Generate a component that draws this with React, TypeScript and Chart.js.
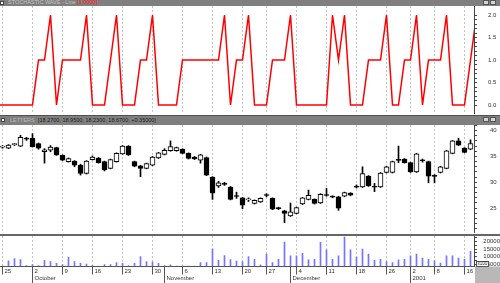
import React, { useEffect, useRef } from 'react';
import { Chart, registerables } from 'chart.js';
Chart.register(...registerables);

const FONT = '"Liberation Sans", Arial, Helvetica, sans-serif';

// ---- x axis (trading-day index) ----
const dayTickIdx = [0, 5, 10, 15, 20, 25, 30, 35, 40, 44, 49, 54, 59, 64, 68, 72, 77];
const dayTickLabels = ['25', '2', '9', '16', '23', '30', '6', '13', '20', '27', '4', '11', '18', '26', '2', '8', '16'];
const monthIdx = [5, 27, 48, 68];
const monthLabels = ['October', 'November', 'December', '2001'];

// ---- stochastic wave (first value is the day before the first candle) ----
const WAVE_START = -1;
const waveValues = [
  0, 0, 0, 0, 0, 0, 0, 1, 1, 2, 0, 1, 1, 1, 1, 2, 0, 0, 0, 1,
  2, 0, 0, 0, 1, 1, 2, 0, 0, 0, 0, 1, 1, 1, 1, 1, 1, 1, 2, 0,
  1, 1, 2, 0, 0, 0, 1, 1, 1, 2, 0, 0, 0, 0, 0, 0, 2, 1, 2, 0,
  0, 0, 1, 1, 1, 2, 0, 0, 1, 1, 2, 0, 1, 1, 1, 2, 0, 0, 0, 1, 2,
];
const waveTickLabels = [0, 0.5, 1, 1.5, 2];

// ---- price candles ----
const opens = [
  36.8, 36.6, 37.3, 37.0, 38.4, 38.5, 37.5, 35.9, 36.2, 36.7,
  35.2, 34.0, 34.1, 33.3, 31.7, 34.4, 34.7, 34.0, 32.7, 34.0,
  35.5, 37.0, 34.0, 33.2, 32.7, 33.3, 34.7, 35.4, 36.1, 36.1,
  36.4, 35.6, 34.9, 34.3, 34.8, 31.0, 29.3, 29.65, 29.1, 27.3,
  27.0, 26.6, 25.9, 26.2, 27.5, 26.9, 24.95, 24.5, 23.5, 24.0,
  25.8, 26.7, 26.7, 26.0, 27.5, 27.2, 27.2, 27.3, 27.9, 29.1,
  29.1, 31.2, 29.1, 29.1, 31.9, 31.9, 34.3, 34.5, 33.8, 32.0,
  34.2, 34.0, 31.2, 31.9, 32.7, 35.6, 38.0, 36.6, 36.4,
];
const highs = [
  37.1, 37.3, 37.5, 39.1, 38.7, 39.4, 37.6, 36.5, 37.1, 36.8,
  35.3, 34.7, 34.2, 33.5, 34.2, 35.1, 34.8, 34.1, 34.5, 35.7,
  37.1, 37.1, 34.1, 33.3, 33.7, 35.0, 35.8, 36.5, 38.0, 36.8,
  36.5, 35.7, 35.0, 35.4, 34.9, 31.1, 30.2, 30.0, 29.2, 28.1,
  27.1, 27.0, 26.6, 27.0, 27.8, 27.0, 25.2, 24.6, 26.0, 25.2,
  27.1, 28.5, 26.8, 27.8, 28.8, 27.4, 27.3, 28.1, 28.0, 29.5,
  33.0, 31.3, 29.8, 31.9, 33.1, 34.1, 37.0, 34.6, 33.9, 35.6,
  34.5, 34.1, 31.5, 33.1, 36.2, 38.1, 38.5, 36.7, 38.2,
];
const lows = [
  36.6, 36.5, 37.1, 36.9, 38.1, 36.8, 36.4, 33.7, 35.9, 35.2,
  34.2, 33.9, 33.0, 31.4, 31.6, 34.3, 33.7, 32.2, 32.6, 33.9,
  35.4, 35.2, 33.0, 31.1, 32.6, 33.2, 34.6, 35.3, 36.0, 36.0,
  35.5, 34.5, 34.4, 33.7, 31.3, 26.7, 29.0, 29.4, 26.6, 26.9,
  24.9, 26.3, 25.8, 26.1, 27.2, 24.7, 24.7, 22.2, 23.4, 23.9,
  25.7, 26.6, 25.8, 25.9, 27.3, 27.0, 24.6, 27.2, 27.4, 28.9,
  29.0, 29.2, 28.2, 29.0, 31.8, 31.8, 33.8, 33.7, 31.9, 31.9,
  33.9, 29.9, 29.9, 31.8, 32.6, 35.5, 37.1, 35.7, 36.3,
];
const closes = [
  36.9, 37.2, 37.35, 38.7, 38.35, 36.9, 36.6, 36.3, 36.8, 35.3,
  34.3, 34.6, 33.3, 31.7, 34.1, 34.9, 33.8, 32.4, 34.4, 35.6,
  37.0, 35.3, 33.1, 32.7, 33.6, 34.9, 35.7, 36.2, 36.9, 36.7,
  35.6, 34.6, 34.5, 35.3, 31.4, 27.9, 29.9, 29.6, 26.7, 27.25,
  25.6, 26.7, 26.5, 26.9, 27.45, 24.8, 24.9, 24.0, 24.3, 25.1,
  27.0, 27.5, 25.9, 27.7, 27.45, 27.15, 25.0, 28.0, 27.5, 29.05,
  31.7, 29.3, 29.05, 31.8, 33.0, 34.0, 34.25, 33.8, 32.0, 35.5,
  34.15, 31.2, 31.15, 33.0, 36.1, 38.0, 37.2, 35.8, 37.5,
];
const priceTickLabels = [25, 30, 35, 40];

// ---- volume ----
const volumes = [
  3800, 7300, 8800, 8100, 4100, 4800, 4100, 7500, 6800, 5500,
  4800, 9500, 6800, 5500, 5100, 4100, 3800, 4800, 4800, 6100,
  5500, 4100, 5500, 10100, 6800, 6500, 5500, 4100, 4500, 3800,
  3800, 3800, 3800, 6100, 6100, 15100, 7500, 10800, 8100, 7100,
  6800, 10100, 8300, 4600, 11700, 6100, 8300, 19700, 10600, 10600,
  12300, 7900, 8300, 19500, 14600, 8300, 10600, 23000, 14600, 9700,
  15000, 11700, 7500, 8300, 6800, 6100, 7900, 8300, 10600, 11700,
  9000, 8300, 7300, 5700, 10600, 10600, 9000, 8300, 13500,
];
const volTickLabels = [5000, 10000, 15000, 20000];

// ---- scale ranges ----
const X_MIN = -2.5 / 6;
const X_MAX = X_MIN + 79;
const AXIS_W = 26;

const xScale = (h: number) => ({
  type: 'linear' as const,
  min: X_MIN,
  max: X_MAX,
  offset: false,
  afterBuildTicks: (s: any) => {
    s.ticks = dayTickIdx.map((v) => ({ value: v }));
  },
  afterFit: (s: any) => {
    s.height = h;
    s.paddingLeft = 0;
    s.paddingRight = 0;
  },
  ticks: { display: false, autoSkip: false },
  grid: { color: '#c4c4c4', lineWidth: 1, drawTicks: false, offset: false },
  border: { display: false, dash: [2, 2] },
});

const yScale = (
  min: number,
  max: number,
  minorTicks: number[],
  labelled: number[],
  fmt: (v: number) => string,
  padding: number,
  crossAlign: 'near' | 'far'
) => ({
  type: 'linear' as const,
  position: 'right' as const,
  min,
  max,
  afterBuildTicks: (s: any) => {
    s.ticks = minorTicks.map((v) => ({ value: v }));
  },
  afterFit: (s: any) => {
    s.width = AXIS_W;
    s.paddingTop = 0;
    s.paddingBottom = 0;
  },
  ticks: {
    autoSkip: false,
    padding,
    crossAlign,
    color: '#333',
    font: { family: FONT, size: 6 },
    callback: (v: any) => (labelled.includes(Number(v)) ? fmt(Number(v)) : ''),
  },
  grid: { drawOnChartArea: false, drawTicks: true, tickLength: 3, color: '#444', tickColor: '#444' },
  border: { display: true, color: '#444', width: 1 },
});

const xLabelsPlugin = {
  id: 'xLabels',
  afterDraw(chart: any) {
    const { ctx, chartArea, scales } = chart;
    const xs = scales.x;
    const b = chartArea.bottom;
    const H = chart.height;
    const W = chart.width;
    ctx.save();
    ctx.fillStyle = '#b8b8b8';
    ctx.fillRect(chartArea.right + 1, b, W - chartArea.right, H - b);
    ctx.strokeStyle = '#555';
    ctx.lineWidth = 1;
    const by = Math.floor(b) + 0.5;
    ctx.beginPath();
    ctx.moveTo(0, by);
    ctx.lineTo(chartArea.right, by);
    ctx.stroke();
    ctx.font = `6px ${FONT}`;
    ctx.fillStyle = '#333';
    ctx.textBaseline = 'middle';
    ctx.textAlign = 'left';
    dayTickIdx.forEach((v, k) => {
      const x = Math.round(xs.getPixelForValue(v) - 0.5) + 0.5;
      ctx.beginPath();
      ctx.moveTo(x, by);
      ctx.lineTo(x, by + 8);
      ctx.stroke();
      ctx.fillText(dayTickLabels[k], x + 2, b + 4.5);
    });
    monthIdx.forEach((v, k) => {
      const x = Math.round(xs.getPixelForValue(v) - 0.5) + 0.5;
      ctx.beginPath();
      ctx.moveTo(x, by);
      ctx.lineTo(x, H);
      ctx.stroke();
      ctx.fillText(monthLabels[k], x + 2, b + 12);
    });
    ctx.restore();
  },
};

const baseOptions = {
  animation: false as const,
  responsive: false,
  maintainAspectRatio: false,
  events: [] as any[],
  layout: { padding: 0 },
  plugins: { legend: { display: false }, tooltip: { enabled: false } },
};

const Buttons = ({ top }: { top: number }) => (
  <>
    <div style={{ position: 'absolute', left: 483, top, width: 6, height: 5, boxSizing: 'border-box', background: '#d4d4d4', border: '1px solid #555' }} />
    <div style={{ position: 'absolute', left: 490, top, width: 6, height: 5, boxSizing: 'border-box', background: '#d4d4d4', border: '1px solid #555' }} />
  </>
);

export default function App() {
  const waveRef = useRef<HTMLCanvasElement>(null);
  const priceRef = useRef<HTMLCanvasElement>(null);
  const volRef = useRef<HTMLCanvasElement>(null);

  useEffect(() => {
    const charts: Chart[] = [];
    const idx = opens.map((_, i) => i);

    const waveMinor: number[] = [];
    for (let k = 0; k <= 20; k++) waveMinor.push(k / 10);
    charts.push(
      new Chart(waveRef.current!, {
        type: 'line',
        data: {
          datasets: [
            {
              data: waveValues.map((v, k) => ({ x: WAVE_START + k, y: v })),
              borderColor: '#ff0000',
              borderWidth: 1.5,
              pointRadius: 0,
              tension: 0,
              fill: false,
            },
          ],
        },
        options: {
          ...baseOptions,
          scales: {
            x: xScale(0),
            y: yScale(-0.2, 2.2, waveMinor, waveTickLabels, (v) => v.toFixed(1), 11, 'near'),
          },
        } as any,
      })
    );

    const priceMinor: number[] = [];
    for (let v = 21; v <= 41; v++) priceMinor.push(v);
    charts.push(
      new Chart(priceRef.current!, {
        type: 'bar',
        data: {
          datasets: [
            {
              data: idx.map((i) => ({ x: i, y: [lows[i], highs[i]] })) as any,
              backgroundColor: '#000',
              borderWidth: 0,
              barThickness: 1,
              maxBarThickness: 1,
              barPercentage: 1,
              categoryPercentage: 1,
              grouped: false,
              order: 2,
            },
            {
              data: idx.map((i) => ({ x: i, y: [opens[i], closes[i]] })) as any,
              backgroundColor: idx.map((i) => (closes[i] >= opens[i] ? '#ffffff' : '#000000')),
              borderColor: '#000',
              borderWidth: 1,
              borderSkipped: false,
              minBarLength: 1,
              barThickness: 5,
              maxBarThickness: 5,
              barPercentage: 1,
              categoryPercentage: 1,
              grouped: false,
              order: 1,
            },
          ],
        },
        options: {
          ...baseOptions,
          scales: {
            x: xScale(0),
            y: yScale(20.2, 41.08, priceMinor, priceTickLabels, (v) => String(v), 13, 'near'),
          },
        } as any,
      })
    );

    const volMinor: number[] = [];
    for (let v = 5000; v <= 22500; v += 2500) volMinor.push(v);
    charts.push(
      new Chart(volRef.current!, {
        type: 'bar',
        data: {
          datasets: [
            {
              data: idx.map((i) => ({ x: i, y: volumes[i] })) as any,
              backgroundColor: '#7474ff',
              borderWidth: 0,
              barThickness: 1,
              maxBarThickness: 1,
            },
          ],
        },
        options: {
          ...baseOptions,
          scales: {
            x: xScale(16.5),
            y: yScale(3467, 23800, volMinor, volTickLabels, (v) => String(v), 3, 'far'),
          },
        } as any,
        plugins: [xLabelsPlugin],
      })
    );

    return () => charts.forEach((c) => c.destroy());
  }, []);

  return (
    <div style={{ position: 'absolute', left: 0, top: 0, width: 500, height: 283, background: '#fff', overflow: 'hidden', fontFamily: FONT }}>
      {/* top header */}
      <div style={{ position: 'absolute', left: 0, top: 0, width: 500, height: 6, background: '#7f7f7f' }} />
      <div style={{ position: 'absolute', left: 0, top: 1, width: 4, height: 4, boxSizing: 'border-box', background: '#fff', border: '1px solid #444' }} />
      <div style={{ position: 'absolute', left: 8, top: -1, fontSize: 5.5, lineHeight: '7px', color: '#c4c4c4', whiteSpace: 'nowrap' }}>
        STOCHASTIC WAVE - Line <span style={{ color: '#ff1a1a' }}>[1.0000]</span>
      </div>
      <Buttons top={0} />

      <canvas ref={waveRef} width={500} height={108} style={{ position: 'absolute', left: 0, top: 6 }} />

      {/* price header */}
      <div style={{ position: 'absolute', left: 0, top: 115, width: 500, height: 1, background: '#505050' }} />
      <div style={{ position: 'absolute', left: 0, top: 116, width: 500, height: 9, background: '#7f7f7f' }} />
      <div style={{ position: 'absolute', left: 1, top: 118, width: 4, height: 4, boxSizing: 'border-box', background: '#fff', border: '1px solid #444' }} />
      <div style={{ position: 'absolute', left: 10, top: 116.5, fontSize: 5.5, lineHeight: '7px', color: '#b8b8b8', whiteSpace: 'nowrap' }}>
        LETTERS
      </div>
      <div style={{ position: 'absolute', left: 38, top: 116.5, fontSize: 5.5, lineHeight: '7px', color: '#222', whiteSpace: 'nowrap' }}>
        [18.2700, 18.9500, 18.2300, 18.6700, +0.35000]
      </div>
      <Buttons top={117} />

      <canvas ref={priceRef} width={500} height={108} style={{ position: 'absolute', left: 0, top: 125 }} />

      {/* volume divider */}
      <div style={{ position: 'absolute', left: 0, top: 234, width: 500, height: 2, background: '#666' }} />

      <canvas ref={volRef} width={500} height={47} style={{ position: 'absolute', left: 0, top: 236 }} />
      <div style={{ position: 'absolute', left: 476, top: 261, width: 13, height: 6, boxSizing: 'border-box', background: '#fff', border: '1px solid #555', fontSize: 4.5, lineHeight: '4px', color: '#222', textAlign: 'center' }}>
        x100
      </div>
    </div>
  );
}
